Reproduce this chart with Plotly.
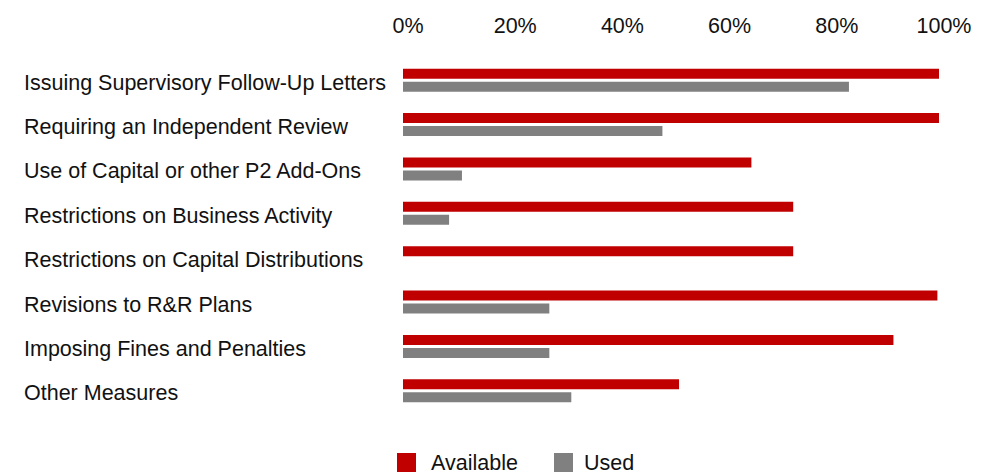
import plotly.graph_objects as go

# Supervisory measures and share of authorities (%)
categories = [
    "Issuing Supervisory Follow-Up Letters",
    "Requiring an Independent Review",
    "Use of Capital or other P2 Add-Ons",
    "Restrictions on Business Activity",
    "Restrictions on Capital Distributions",
    "Revisions to R&R Plans",
    "Imposing Fines and Penalties",
    "Other Measures",
]
available = [100, 100, 65, 72.8, 72.8, 99.7, 91.5, 51.5]
used = [83.2, 48.4, 11, 8.6, 0, 27.3, 27.3, 31.4]
x_ticks = [0, 20, 40, 60, 80, 100]
x_tick_text = ["0%", "20%", "40%", "60%", "80%", "100%"]

series_names = ["Available", "Used"]
series_colors = ["#C00000", "#808080"]

W, H = 997, 474
M_L, M_R, M_T, M_B = 403, 58, 58, 61
PW, PH = W - M_L - M_R, H - M_T - M_B
FONT = "Liberation Sans, Arial, sans-serif"
TXT = "#111111"
FS = 21.5


def px_x(px):
    return (px - M_L) / PW


def px_y(py):
    return (H - M_B - py) / PH


fig = go.Figure()
for name, vals, col in zip(series_names, [available, used], series_colors):
    fig.add_trace(go.Bar(
        y=categories, x=vals, name=name, orientation="h",
        marker=dict(color=col, line=dict(width=0)),
        showlegend=False, hoverinfo="x+y",
    ))

# Category labels, left aligned
annotations = []
for c in categories:
    annotations.append(dict(
        x=px_x(22), xref="paper", y=c, yref="y", text=c, showarrow=False,
        xanchor="left", yanchor="middle", yshift=-2.5,
        font=dict(family=FONT, size=FS, color=TXT),
    ))

# Legend beneath the chart
shapes = []
legend_items = [(397, 431), (554, 584)]
for (sq_x, tx_x), name, col in zip(legend_items, series_names, series_colors):
    shapes.append(dict(
        type="rect", xref="paper", yref="paper",
        x0=px_x(sq_x), x1=px_x(sq_x + 19), y0=px_y(472), y1=px_y(453),
        fillcolor=col, line=dict(width=0),
    ))
    annotations.append(dict(
        x=px_x(tx_x - 2), xref="paper", y=px_y(463), yref="paper", text=name,
        showarrow=False, xanchor="left", yanchor="middle",
        font=dict(family=FONT, size=FS, color=TXT),
    ))

fig.update_layout(
    width=W, height=H,
    margin=dict(l=M_L, r=M_R, t=M_T, b=M_B, pad=0),
    paper_bgcolor="white", plot_bgcolor="white",
    barmode="group", bargap=0.414, bargroupgap=0.23,
    showlegend=False,
    annotations=annotations, shapes=shapes,
    font=dict(family=FONT, size=FS, color=TXT),
)
fig.update_xaxes(
    range=[0, 100], side="top", tickvals=x_ticks, ticktext=x_tick_text,
    showgrid=False, zeroline=False, showline=False, ticks="",
    ticklabelshift=5, ticklabelstandoff=20,
    tickfont=dict(family=FONT, size=FS, color=TXT),
)
fig.update_yaxes(
    autorange="reversed", showticklabels=False, showgrid=False,
    zeroline=False, showline=False, ticks="",
)

fig.write_html("out.html")
